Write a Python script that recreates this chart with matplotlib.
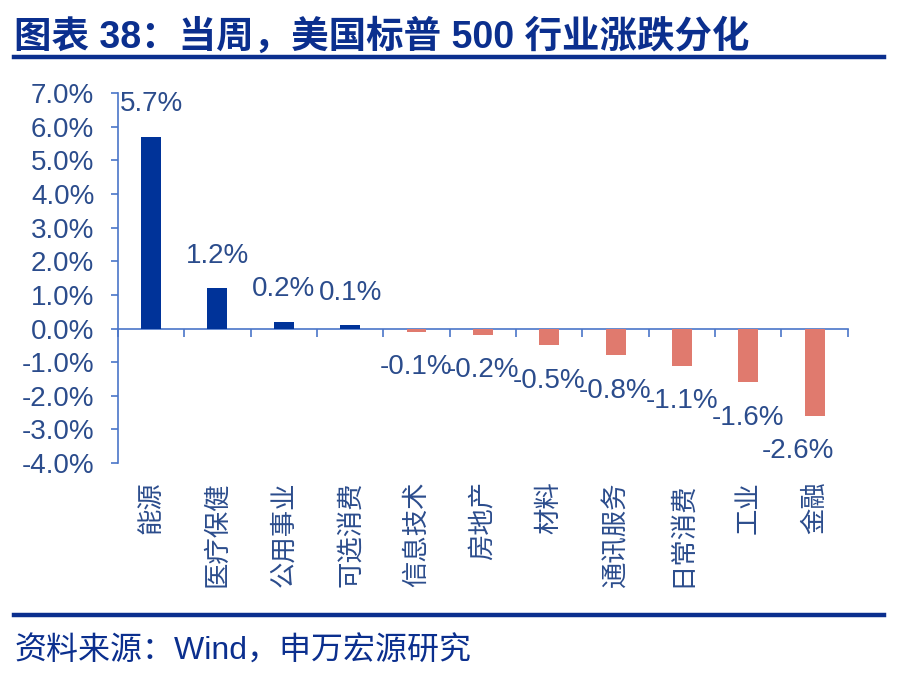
import numpy as np
import matplotlib
matplotlib.use('Agg')
import matplotlib.pyplot as plt
from matplotlib.lines import Line2D

plt.rcParams['font.family'] = ['Liberation Sans', 'Noto Sans CJK SC', 'DejaVu Sans']

# Data
sectors = ['能源', '医疗保健', '公用事业', '可选消费', '信息技术', '房地产',
           '材料', '通讯服务', '日常消费', '工业', '金融']
changes = [5.7, 1.2, 0.2, 0.1, -0.1, -0.2, -0.5, -0.8, -1.1, -1.6, -2.6]
y_ticks = [-4, -3, -2, -1, 0, 1, 2, 3, 4, 5, 6, 7]

title_text = '图表 38：当周，美国标普 500 行业涨跌分化'
source_text = '资料来源：Wind，申万宏源研究'

# Colours
dark_blue = '#0B2F8E'
bar_up = '#003399'
bar_down = '#E07A6E'
axis_color = '#4A76C8'
label_color = '#2B4C8C'

fig = plt.figure(figsize=(9, 6.84), dpi=100)
ax = fig.add_axes([0.131, 0.323, 0.811, 0.541])

x = np.arange(len(sectors))
colors = [bar_up if v >= 0 else bar_down for v in changes]
ax.bar(x, changes, width=0.3, color=colors, zorder=3)

ax.set_xlim(-0.5, len(sectors) - 0.5)
ax.set_ylim(-4, 7)

# axes styling
for side in ['top', 'right']:
    ax.spines[side].set_visible(False)
ax.spines['left'].set_color(axis_color)
ax.spines['bottom'].set_color(axis_color)
ax.spines['left'].set_linewidth(1.2)
ax.spines['bottom'].set_linewidth(1.2)
ax.spines['bottom'].set_position(('data', 0))

ax.set_yticks(y_ticks)
ax.set_yticklabels([f'{v:.1f}%' for v in y_ticks])
ax.tick_params(axis='y', direction='out', length=5, width=1.2, color=axis_color,
               labelsize=20, labelcolor=label_color, pad=12)

ax.set_xticks(np.arange(len(sectors) + 1) - 0.5)
ax.set_xticklabels([])
ax.tick_params(axis='x', direction='out', length=6, width=1.2, color=axis_color)

# category labels at the bottom of the plot
for i, name in enumerate(sectors):
    ax.annotate(name, xy=(i, 0), xycoords=('data', 'axes fraction'),
                xytext=(0, -13), textcoords='offset points',
                rotation=90, ha='center', va='top', fontsize=19, color=label_color)

# value labels
for i, v in enumerate(changes):
    dx = -12 if i == len(changes) - 1 else 0
    if v >= 0:
        ax.annotate(f'{v:.1f}%', xy=(i, v), xytext=(dx, 14), textcoords='offset points',
                    ha='center', va='bottom', fontsize=20, color=label_color)
    else:
        ax.annotate(f'{v:.1f}%', xy=(i, v), xytext=(dx, -16), textcoords='offset points',
                    ha='center', va='top', fontsize=20, color=label_color)

# title and source with rules
fig.text(0.016, 0.946, title_text, fontsize=27, fontweight='bold', color=dark_blue,
         ha='left', va='center')
fig.add_artist(Line2D([0.016, 0.982], [0.916, 0.916], color=dark_blue, linewidth=3.2))
fig.add_artist(Line2D([0.016, 0.982], [0.101, 0.101], color=dark_blue, linewidth=3.2))
fig.text(0.016, 0.048, source_text, fontsize=23, color=dark_blue, ha='left', va='center')

fig.savefig('out.png', dpi=100)
